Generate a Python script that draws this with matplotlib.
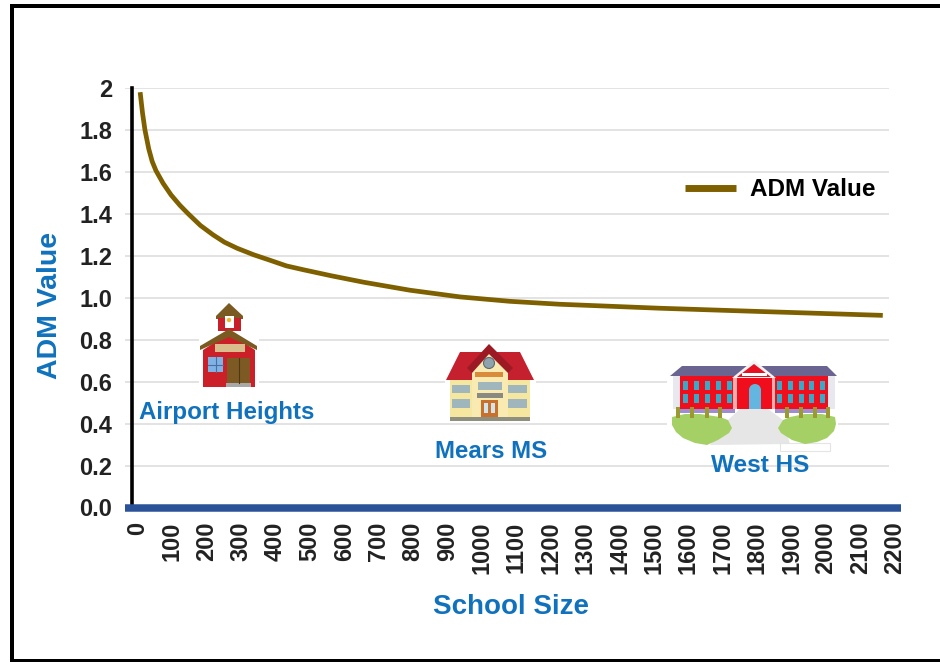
import matplotlib
matplotlib.use('Agg')
import matplotlib.pyplot as plt
from matplotlib.patches import Polygon, Rectangle, Circle
from matplotlib.transforms import ScaledTranslation

plt.rcParams['font.family'] = ['Liberation Sans', 'DejaVu Sans']

# values
school_size = [15, 22, 29, 40, 50, 61, 82, 105, 131, 155, 190, 227, 260, 297, 345, 394,
               440, 491, 570, 665, 799, 945, 1090, 1235, 1526, 1788, 2174]
adm_value = [1.98, 1.88, 1.80, 1.71, 1.65, 1.606, 1.545, 1.49, 1.44, 1.40, 1.345, 1.30,
             1.265, 1.236, 1.205, 1.178, 1.152, 1.133, 1.105, 1.074, 1.036, 1.004,
             0.983, 0.969, 0.95, 0.936, 0.916]
x_ticks = list(range(0, 2300, 100))
y_ticks = [0.0, 0.2, 0.4, 0.6, 0.8, 1.0, 1.2, 1.4, 1.6, 1.8, 2.0]
y_tick_labels = ['0.0', '0.2', '0.4', '0.6', '0.8', '1.0', '1.2', '1.4', '1.6', '1.8', '2']

W, H = 940, 662
BLUE = '#1072bd'
BROWN = '#7f6000'

fig = plt.figure(figsize=(W / 100, H / 100), dpi=100)
ax = fig.add_axes([125 / W, 1 - 507.5 / H, (901 - 125) / W, (507.5 - 88) / H])
ax.set_xlim(-29, 2227)
ax.set_ylim(0, 2)

# gridlines run a little past the y axis, like small ticks
ax.hlines(y_ticks[1:], -29, 2192, color='#e0e0e0', lw=1.3, zorder=1)
ax.plot(school_size, adm_value, color=BROWN, lw=3.4, label='ADM Value',
        solid_capstyle='butt', solid_joinstyle='round', zorder=4)

for side in ['top', 'right']:
    ax.spines[side].set_visible(False)
ax.spines['left'].set_position(('data', -9))
ax.spines['left'].set_linewidth(2.6)
ax.spines['left'].set_color('black')
ax.spines['bottom'].set_linewidth(5.4)
ax.spines['bottom'].set_color('#2a5298')
ax.spines['bottom'].set_capstyle('butt')
ax.spines['bottom'].set_zorder(5)

ax.set_xticks(x_ticks)
ax.set_xticklabels([str(v) for v in x_ticks], rotation=90, fontsize=17, fontweight='bold', color='#222222')
ax.set_yticks(y_ticks)
ax.set_yticklabels(y_tick_labels, fontsize=17, fontweight='bold', color='#222222')
ax.tick_params(axis='x', length=0, pad=10)
ax.tick_params(axis='y', length=0, pad=14)
# rotated labels sit a few pixels left of the tick otherwise
for lab in ax.get_xticklabels():
    lab.set_transform(lab.get_transform() + ScaledTranslation(3 / 100, 0, fig.dpi_scale_trans))

leg = ax.legend(loc='center left', bbox_to_anchor=((686 - 125) / 776 - 0.029, (507.5 - 190) / 419.5),
                frameon=False, handlelength=2.1, handletextpad=0.55,
                prop={'size': 17.5, 'weight': 'bold'})
leg.get_lines()[0].set_linewidth(5)

# overlay in picture pixels for the frame, the labels and the building icons
ov = fig.add_axes([0, 0, 1, 1], zorder=10)
ov.set_xlim(0, W)
ov.set_ylim(H, 0)
ov.axis('off')


def rect(x0, y0, x1, y1, color, z=11):
    ov.add_patch(Rectangle((x0, y0), x1 - x0, y1 - y0, fc=color, ec='none', zorder=z))


def poly(points, color, z=11):
    ov.add_patch(Polygon(points, closed=True, fc=color, ec='none', zorder=z))


# frame: no right edge visible in the picture
rect(10, 4, W, 8, 'black')
rect(10, 4, 14, 662, 'black')
rect(10, 659, W, 662, 'black')

# Airport Heights schoolhouse
rect(199, 303, 259, 388, 'white', 10)
poly([(229, 303), (243, 316), (243, 319), (216, 319), (216, 316)], '#7a5a20')
rect(218, 318, 241, 331, '#c8202a')
rect(225, 316, 234, 328, 'white')
ov.add_patch(Circle((229, 320), 2.2, fc='#f0b92a', ec='none', zorder=12))
poly([(229, 333), (203, 350), (203, 387), (255, 387), (255, 350)], '#cc2029')
poly([(229, 329), (257, 346), (257, 350), (229, 337), (200, 350), (200, 346)], '#7a5a20')
rect(215, 344, 245, 352, '#d9bd8c')
rect(208, 357, 223, 372, '#7fb2e5')
ov.plot([215.5, 215.5], [357, 372], color='#4a6fa0', lw=0.8, zorder=12)
ov.plot([208, 223], [364.5, 364.5], color='#4a6fa0', lw=0.8, zorder=12)
rect(227, 358, 250, 383, '#7d5a24')
ov.plot([238.5, 238.5], [358, 383], color='#4e3812', lw=0.8, zorder=12)
rect(226, 383, 251, 387, '#a8a8a8')

# Mears MS building
rect(445, 343, 536, 422, 'white', 10)
poly([(446, 380), (460, 352), (520, 352), (534, 380)], '#c5202e')
rect(450, 380, 530, 420, '#f5e6a0')
poly([(489, 344), (513, 368), (508, 373), (472, 373), (467, 368)], '#9c1a24')
poly([(489, 354), (508, 373), (508, 420), (472, 420), (472, 373)], '#f8eab0')
ov.add_patch(Circle((489, 363), 5.5, fc='#8fa3ad', ec='#5b6b75', lw=0.8, zorder=12))
rect(475, 372, 503, 377, '#d98a3a')
for box in [(478, 382, 502, 390), (452, 385, 470, 393), (508, 385, 527, 393),
            (452, 399, 470, 408), (508, 399, 527, 408)]:
    rect(*box, '#9fb6bd')
rect(477, 393, 503, 398, '#8a8a80')
rect(481, 400, 498, 417, '#c8702c')
rect(484, 403, 488, 413, '#cfe6ee')
rect(491, 403, 495, 413, '#cfe6ee')
rect(450, 417, 530, 421, '#8f8f80')

# West HS building
rect(667, 360, 838, 448, 'white', 10)
poly([(670, 376), (682, 366), (827, 366), (837, 376)], '#6a6590')
rect(680, 376, 828, 409, '#f00d1c')
rect(673, 376, 680, 409, '#e8e8ee')
rect(828, 376, 835, 409, '#e8e8ee')
poly([(754, 360), (776, 378), (732, 378)], '#f4f4f4', 12)
poly([(754, 364), (771, 377), (737, 377)], '#e81020', 12)
rect(742, 373, 767, 376, 'white', 13)
rect(733, 378, 737, 409, '#f0b0b0', 12)
rect(772, 378, 775, 409, '#f0b0b0', 12)
for wx in [683, 694, 705, 716, 727, 777, 788, 799, 809, 820]:
    rect(wx, 381, wx + 5, 390, '#37a9c9', 12)
    rect(wx, 394, wx + 5, 403, '#37a9c9', 12)
rect(749, 390, 761, 409, '#62b6e0', 12)
ov.add_patch(Circle((755, 390), 6, fc='#62b6e0', ec='none', zorder=12))
rect(680, 409, 735, 413, '#9a8fd0')
rect(775, 409, 828, 413, '#9a8fd0')
poly([(740, 409), (768, 409), (783, 420), (790, 444), (710, 445), (728, 420)], '#e6e6e6')
poly([(672, 417), (685, 414), (700, 414), (720, 417), (728, 420), (732, 428), (729, 433), (718, 440),
      (707, 445), (695, 443), (683, 438), (676, 432), (672, 425)], '#a4d065', 12)
poly([(835, 417), (822, 414), (805, 414), (790, 417), (783, 420), (778, 428), (781, 433), (792, 440),
      (805, 444), (817, 442), (827, 438), (834, 431), (836, 424)], '#a4d065', 12)
for tx in [678, 692, 707, 720, 787, 801, 815, 828]:
    rect(tx - 2, 407, tx + 2, 418, '#9a9a30', 13)
ov.add_patch(Rectangle((780, 443), 50, 8, fc='none', ec='#e4e4e4', lw=0.8, zorder=11))

# blue captions
ov.text(227, 413, 'Airport Heights', color=BLUE, fontsize=17.4, fontweight='bold', ha='center', va='center', zorder=14)
ov.text(491, 451, 'Mears MS', color=BLUE, fontsize=17.3, fontweight='bold', ha='center', va='center', zorder=14)
ov.text(760, 466, 'West HS', color=BLUE, fontsize=17.6, fontweight='bold', ha='center', va='center', zorder=14)
ov.text(511, 607, 'School Size', color=BLUE, fontsize=20, fontweight='bold', ha='center', va='center', zorder=14)
ov.text(50, 305, 'ADM Value', color=BLUE, fontsize=20.5, fontweight='bold', rotation=90, ha='center', va='center', zorder=14)

plt.savefig('out.png', dpi=100)
plt.close()
